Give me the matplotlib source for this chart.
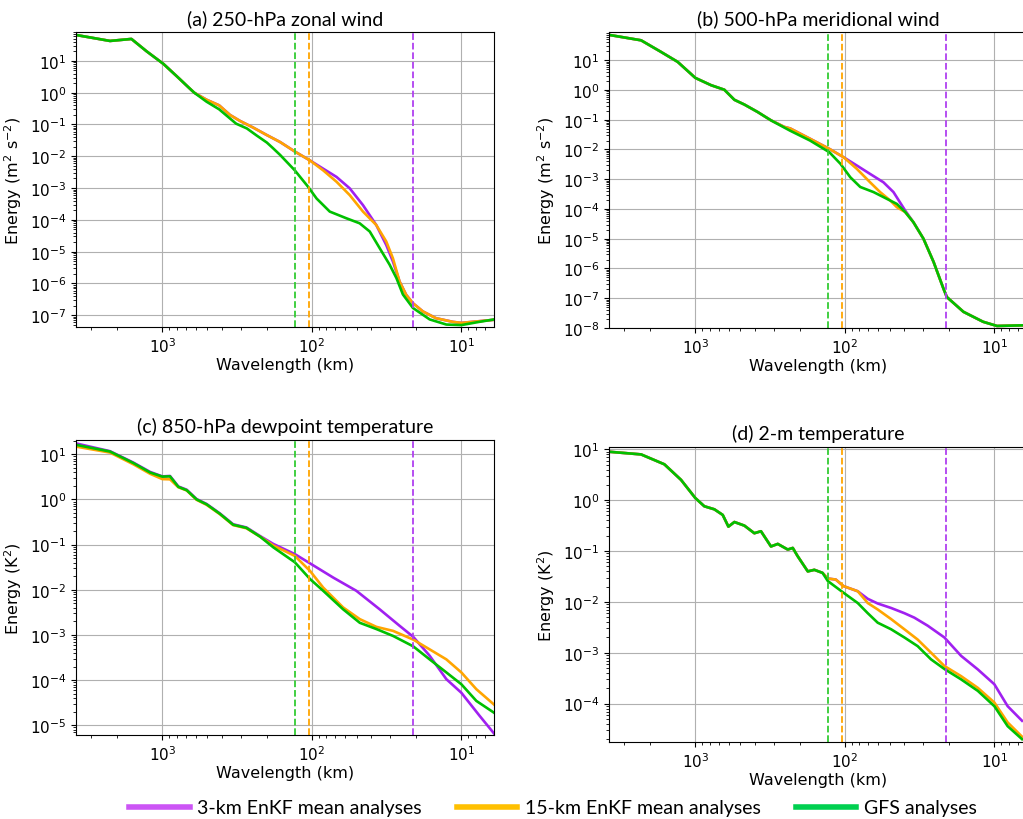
import matplotlib
matplotlib.use('Agg')
import matplotlib.pyplot as plt
from matplotlib.lines import Line2D
from matplotlib.ticker import LogLocator

# colours of the three analyses
c_3km = '#a020f0'
c_15km = '#ffa500'
c_gfs = '#00c000'

# effective resolution lines (km)
res_gfs = 130
res_15km = 104
res_3km = 21

# ---- (a) 250-hPa zonal wind ----
lam_a_3km = [3776, 2239, 1610, 1274, 984, 807, 661, 612, 506, 417, 353, 303, 247, 201, 163, 130, 103, 84,
             68.4, 55.8, 45.5, 37.1, 31.8, 28.7, 25.9, 23.4, 21.1, 18.1, 14.8, 11.4, 10.0, 7.59, 6.03]
e_a_3km = [65.3, 42.4, 49, 20, 8.05, 3.4, 1.4, 1.0, 0.6, 0.40, 0.2, 0.13, 0.08, 0.047, 0.028, 0.0141,
           7.4e-3, 4.07e-3, 2.24e-3, 9.8e-4, 2.9e-4, 6.9e-5, 1.62e-5, 4.9e-6, 1.15e-6, 4.4e-7, 2.4e-7,
           1.32e-7, 8.1e-8, 6.2e-8, 5.75e-8, 6.5e-8, 7.2e-8]
lam_a_15km = [3776, 2239, 1610, 1274, 984, 807, 661, 612, 506, 417, 353, 303, 247, 201, 163, 130, 103, 84,
              68.4, 55.8, 45.5, 37.1, 31.8, 28.7, 25.9, 23.4, 21.1, 18.1, 14.8, 11.4, 10.0, 7.59, 6.03]
e_a_15km = [65.3, 42.4, 49, 20, 8.05, 3.4, 1.4, 1.0, 0.6, 0.40, 0.2, 0.13, 0.08, 0.047, 0.028, 0.0141,
            7.4e-3, 3.6e-3, 1.58e-3, 6.0e-4, 1.82e-4, 6.9e-5, 2.09e-5, 6.2e-6, 1.15e-6, 4.4e-7, 2.4e-7,
            1.32e-7, 8.1e-8, 6.2e-8, 5.75e-8, 6.5e-8, 7.2e-8]
lam_a_gfs = [3776, 2239, 1610, 1274, 984, 807, 661, 612, 506, 417, 321, 272, 234, 200, 182, 163, 130, 106,
             93, 75.9, 58.7, 47.9, 41.0, 35.2, 30.2, 27.2, 24.6, 21.1, 16.3, 12.6, 10.0, 7.59, 6.03]
e_a_gfs = [65.3, 42.4, 49, 20, 8.05, 3.4, 1.4, 1.0, 0.52, 0.30, 0.106, 0.075, 0.045, 0.027, 0.018, 0.011,
           3.6e-3, 1.1e-3, 4.7e-4, 1.82e-4, 1.12e-4, 7.8e-5, 4.3e-5, 1.29e-5, 3.9e-6, 1.48e-6, 4.5e-7,
           1.7e-7, 7.4e-8, 5.1e-8, 4.9e-8, 6.2e-8, 7.4e-8]

# ---- (b) 500-hPa meridional wind ----
lam_b_3km = [3855, 2307, 1698, 1312, 1000, 785, 640, 548, 470, 383, 312, 254, 232, 171, 127, 102, 83.2,
             67.8, 55.2, 47.3, 39.5, 34.8, 29.8, 25.5, 21.9, 20.8, 16.1, 11.9, 9.6, 6.4]
e_b_3km = [72.4, 46.8, 19.1, 8.79, 2.55, 1.45, 1.02, 0.468, 0.324, 0.182, 0.0955, 0.0575, 0.051, 0.023,
           0.0105, 5.5e-3, 2.9e-3, 1.51e-3, 7.9e-4, 3.7e-4, 8.9e-5, 3.6e-5, 1.0e-5, 1.66e-6, 2.1e-7, 1.1e-7,
           3.5e-8, 1.62e-8, 1.17e-8, 1.23e-8]
lam_b_15km = [3855, 2307, 1698, 1312, 1000, 785, 640, 548, 470, 383, 312, 254, 232, 171, 127, 102, 83.2,
              67.8, 58.1, 49.8, 44.9, 39.5, 34.8, 29.8, 25.5, 21.9, 20.8, 16.1, 11.9, 9.6, 6.4]
e_b_15km = [72.4, 46.8, 19.1, 8.79, 2.55, 1.45, 1.02, 0.468, 0.324, 0.182, 0.0955, 0.0575, 0.051, 0.023,
            0.0105, 5.5e-3, 2.24e-3, 7.9e-4, 3.7e-4, 1.95e-4, 1.15e-4, 7.9e-5, 3.6e-5, 1.0e-5, 1.66e-6,
            2.1e-7, 1.1e-7, 3.5e-8, 1.62e-8, 1.17e-8, 1.23e-8]
lam_b_gfs = [3855, 2307, 1698, 1312, 1000, 785, 640, 548, 470, 383, 312, 254, 232, 171, 127, 107, 92, 78.9,
             64.3, 55.1, 44.9, 39.5, 34.8, 29.8, 25.5, 21.9, 20.8, 16.1, 11.9, 9.6, 6.4]
e_b_gfs = [72.4, 46.8, 19.1, 8.79, 2.55, 1.45, 1.02, 0.468, 0.324, 0.182, 0.0955, 0.0545, 0.0427, 0.02,
           8.1e-3, 3.3e-3, 1.17e-3, 5.5e-4, 3.7e-4, 2.5e-4, 1.48e-4, 7.9e-5, 3.6e-5, 1.0e-5, 1.66e-6, 2.1e-7,
           1.1e-7, 3.5e-8, 1.62e-8, 1.17e-8, 1.23e-8]

# ---- (c) 850-hPa dewpoint temperature ----
lam_c_3km = [3776, 2239, 1563, 1208, 1000, 889, 782, 687, 590, 506, 412, 336, 274, 222, 181, 130, 100, 71.9,
             50.4, 35.2, 25.8, 21.0, 16.3, 12.6, 10, 7.55, 6.05]
e_c_3km = [17.4, 11.7, 6.55, 4.07, 3.24, 3.31, 1.94, 1.64, 1.02, 0.794, 0.49, 0.282, 0.24, 0.155, 0.1035,
           0.0617, 0.0363, 0.0186, 9.5e-3, 3.7e-3, 1.58e-3, 9.1e-4, 3.47e-4, 1.05e-4, 5.25e-5, 1.62e-5, 6.6e-6]
lam_c_15km = [3776, 2239, 1563, 1208, 1000, 889, 782, 687, 590, 506, 412, 336, 274, 222, 181, 130, 103, 84,
              61.8, 47.8, 37.0, 28.6, 21.0, 16.3, 12.6, 10, 7.94, 6.05]
e_c_15km = [14.8, 10.9, 6.0, 3.7, 2.82, 2.79, 1.86, 1.58, 0.98, 0.76, 0.47, 0.27, 0.23, 0.15, 0.0955, 0.0562,
            0.0263, 0.0112, 4.07e-3, 2.24e-3, 1.51e-3, 1.23e-3, 7.9e-4, 4.8e-4, 2.88e-4, 1.48e-4, 6.3e-5, 2.88e-5]
lam_c_gfs = [3776, 2239, 1563, 1208, 1000, 889, 782, 687, 590, 506, 412, 336, 274, 222, 181, 130, 103, 84,
             61.8, 47.8, 37.0, 28.6, 21.0, 16.3, 12.6, 10, 7.94, 6.05]
e_c_gfs = [16.2, 11.5, 6.4, 3.95, 3.2, 3.25, 1.9, 1.6, 1.0, 0.78, 0.48, 0.275, 0.235, 0.15, 0.087, 0.0407,
           0.0174, 9.5e-3, 3.7e-3, 1.86e-3, 1.35e-3, 9.5e-4, 5.6e-4, 2.88e-4, 1.48e-4, 8.1e-5, 3.47e-5, 1.9e-5]

# ---- (d) 2-m temperature ----
lam_d_3km = [3855, 2307, 1611, 1247, 1000, 871, 746, 656, 601, 548, 470, 403, 364, 312, 281, 241, 223, 207,
             177, 160, 141, 130, 115, 102, 82, 70.3, 60.3, 49.1, 40.0, 34.3, 27.9, 21.6, 16.7, 12.9, 10.0,
             8.15, 6.53]
e_d_3km = [9.0, 7.94, 5.07, 2.51, 1.10, 0.759, 0.661, 0.513, 0.302, 0.372, 0.316, 0.224, 0.245, 0.123, 0.138,
           0.107, 0.115, 0.0794, 0.0398, 0.0427, 0.0372, 0.0288, 0.0275, 0.0204, 0.0162, 0.0115, 9.3e-3,
           7.6e-3, 6.0e-3, 4.9e-3, 3.4e-3, 2.0e-3, 8.7e-4, 4.7e-4, 2.4e-4, 8.9e-5, 4.6e-5]
lam_d_15km = [3855, 2307, 1611, 1247, 1000, 871, 746, 656, 601, 548, 470, 403, 364, 312, 281, 241, 223, 207,
              177, 160, 141, 130, 115, 102, 82, 70.3, 60.3, 49.1, 40.0, 32.6, 26.5, 21.6, 16.7, 12.9, 10.0,
              8.15, 6.53]
e_d_15km = [9.0, 7.94, 5.07, 2.51, 1.10, 0.759, 0.661, 0.513, 0.302, 0.372, 0.316, 0.224, 0.245, 0.123, 0.138,
            0.107, 0.115, 0.0794, 0.0398, 0.0427, 0.0372, 0.0288, 0.0275, 0.0204, 0.0162, 9.5e-3, 7.1e-3,
            4.6e-3, 2.9e-3, 1.82e-3, 1.0e-3, 5.5e-4, 3.47e-4, 2.04e-4, 1.05e-4, 4.27e-5, 2.24e-5]
lam_d_gfs = [3855, 2307, 1611, 1247, 1000, 871, 746, 656, 601, 548, 470, 403, 364, 312, 281, 241, 223, 207,
             177, 160, 141, 130, 102, 82, 70.3, 60.3, 49.1, 40.0, 32.6, 26.5, 21.6, 16.7, 12.9, 10.0, 8.15, 6.53]
e_d_gfs = [9.0, 7.94, 5.07, 2.51, 1.10, 0.759, 0.661, 0.513, 0.302, 0.372, 0.316, 0.224, 0.245, 0.123, 0.138,
           0.107, 0.115, 0.0794, 0.0398, 0.0427, 0.0372, 0.0257, 0.0151, 9.5e-3, 6.0e-3, 3.9e-3, 2.9e-3,
           2.0e-3, 1.35e-3, 7.4e-4, 4.8e-4, 3.0e-4, 1.78e-4, 8.9e-5, 3.6e-5, 2.0e-5]

titles = ['(a) 250-hPa zonal wind', '(b) 500-hPa meridional wind',
          '(c) 850-hPa dewpoint temperature', '(d) 2-m temperature']
ylabels = [r'Energy (m$^2$ s$^{-2}$)', r'Energy (m$^2$ s$^{-2}$)',
           r'Energy (K$^2$)', r'Energy (K$^2$)']
ylims = [(4.27e-8, 81), (1e-8, 89), (6.1e-6, 20.7), (1.76e-5, 11.1)]
xlim = (3780, 6.05)

panels = [
    [(lam_a_3km, e_a_3km), (lam_a_15km, e_a_15km), (lam_a_gfs, e_a_gfs)],
    [(lam_b_3km, e_b_3km), (lam_b_15km, e_b_15km), (lam_b_gfs, e_b_gfs)],
    [(lam_c_3km, e_c_3km), (lam_c_15km, e_c_15km), (lam_c_gfs, e_c_gfs)],
    [(lam_d_3km, e_d_3km), (lam_d_15km, e_d_15km), (lam_d_gfs, e_d_gfs)],
]

W, H = 1023, 820
boxes = [(76, 33, 328), (609, 33, 329), (76, 441, 736), (609, 448, 743)]

fig = plt.figure(figsize=(W / 100, H / 100), dpi=100)

for k in range(4):
    left, top, bottom = boxes[k]
    ax = fig.add_axes([left / W, 1 - bottom / H, 418 / W, (bottom - top) / H])
    series = panels[k]
    for (lam, e), c in zip(series, [c_3km, c_15km, c_gfs]):
        ax.plot(lam, e, color=c, lw=1.9)
    ax.axvline(res_gfs, color='#33cc33', ls='--', lw=1.3)
    ax.axvline(res_15km, color=c_15km, ls='--', lw=1.3)
    ax.axvline(res_3km, color='#b040f0', ls='--', lw=1.3)
    ax.set_xscale('log')
    ax.set_yscale('log')
    ax.set_xlim(*xlim)
    ax.set_ylim(*ylims[k])
    ax.yaxis.set_major_locator(LogLocator(base=10, numticks=30))
    ax.yaxis.set_minor_locator(LogLocator(base=10, subs=range(2, 10), numticks=30))
    ax.grid(True, which='major', color='#b0b0b0', lw=0.8)
    ax.tick_params(labelsize=11)
    ax.set_xlabel('Wavelength (km)', fontsize=11.5, labelpad=1)
    ax.set_ylabel(ylabels[k], fontsize=11.5)
    ax.set_title(titles[k], fontsize=14, family='Lato')

handles = [Line2D([], [], color='#cc55f5', lw=4),
           Line2D([], [], color='#ffc000', lw=4),
           Line2D([], [], color='#00d050', lw=4)]
labels = ['3-km EnKF mean analyses', '15-km EnKF mean analyses', 'GFS analyses']
fig.legend(handles, labels, loc='center', bbox_to_anchor=(553 / W, 1 - 809 / H), ncol=3,
           frameon=False, handlelength=3.1, handletextpad=0.4, columnspacing=1.8,
           prop={'family': 'Lato', 'size': 14})

fig.savefig('out.png', dpi=100)
